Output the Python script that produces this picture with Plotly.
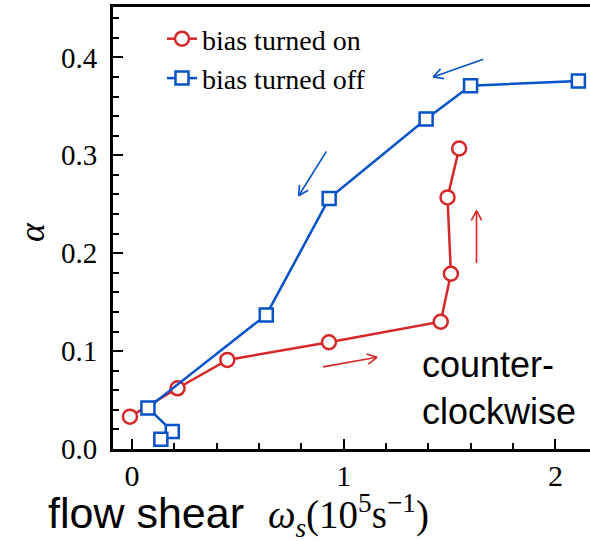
import math
import plotly.graph_objects as go

# ---- data ----
on_x = [-0.01, 0.215, 0.45, 0.93, 1.458, 1.506, 1.49, 1.545]
on_y = [0.033, 0.062, 0.091, 0.109, 0.130, 0.179, 0.257, 0.307]
off_x = [2.108, 1.599, 1.389, 0.931, 0.634, 0.075, 0.19, 0.136]
off_y = [0.376, 0.371, 0.337, 0.256, 0.137, 0.042, 0.018, 0.010]
x_ticks = [0, 1, 2]
x_ticklabels = ["0", "1", "2"]
y_ticks = [0.0, 0.1, 0.2, 0.3, 0.4]
y_ticklabels = ["0.0", "0.1", "0.2", "0.3", "0.4"]
# arrows: (x_tail, y_tail, x_head, y_head, color)
arrows = [
    (1.659, 0.398, 1.422, 0.380, "blue"),
    (0.918, 0.304, 0.787, 0.2587, "blue"),
    (1.627, 0.190, 1.627, 0.2434, "red"),
    (0.902, 0.0839, 1.157, 0.0937, "red"),
]

RED = "#d62728"
BLUE = "#0652c8"
COL = {"red": RED, "blue": BLUE}

W, H = 590, 541
ML, MR, MT, MB = 113, 0, 7, 92
XR = [-0.09, 2.163]
YR = [0.0, 0.4515]
pw = W - ML - MR
ph = H - MT - MB
sx = pw / (XR[1] - XR[0])
sy = ph / (YR[1] - YR[0])

def px_to_paper_x(px):
    return (px - ML) / pw

def px_to_paper_y(py):
    return (H - MB - py) / ph

fig = go.Figure()
fig.add_trace(go.Scatter(
    x=on_x, y=on_y, mode="lines+markers", name="bias turned on",
    line=dict(color=RED, width=2.5),
    marker=dict(symbol="circle", size=14, color="white", line=dict(color=RED, width=2.5)),
))
fig.add_trace(go.Scatter(
    x=off_x, y=off_y, mode="lines+markers", name="bias turned off",
    line=dict(color=BLUE, width=2.5),
    marker=dict(symbol="square", size=13, color="white", line=dict(color=BLUE, width=2.5)),
))

shapes = []
for (x0, y0, x1, y1, c) in arrows:
    color = COL[c]
    shapes.append(dict(type="line", xref="x", yref="y", x0=x0, y0=y0, x1=x1, y1=y1,
                       line=dict(color=color, width=1.6)))
    dxp = (x1 - x0) * sx
    dyp = (y1 - y0) * sy
    L = math.hypot(dxp, dyp)
    ux, uy = dxp / L, dyp / L
    hl = 11
    for ang in (math.radians(28), -math.radians(28)):
        bx = -(ux * math.cos(ang) - uy * math.sin(ang)) * hl
        by = -(ux * math.sin(ang) + uy * math.cos(ang)) * hl
        shapes.append(dict(type="line", xref="x", yref="y", x0=x1, y0=y1,
                           x1=x1 + bx / sx, y1=y1 + by / sy,
                           line=dict(color=color, width=1.6)))

serif = "Liberation Serif"
sans = "Liberation Sans"

annotations = [
    dict(text="counter-<br>clockwise", xref="paper", yref="paper",
         x=px_to_paper_x(420), y=px_to_paper_y(342),
         xanchor="left", yanchor="top", showarrow=False, align="left",
         font=dict(family=sans, size=36, color="black")),
    dict(text=("flow shear  <span style=\"font-family:Liberation Serif;font-size:39px\"><i>ω</i><sub><i>s</i></sub>"
               "(10<sup>5</sup>s<sup>−1</sup>)</span>"),
         xref="paper", yref="paper", x=px_to_paper_x(46), y=px_to_paper_y(515),
         xanchor="left", yanchor="middle", showarrow=False,
         font=dict(family=sans, size=43, color="black")),
    dict(text="<i>α</i>", xref="paper", yref="paper", x=px_to_paper_x(32), y=px_to_paper_y(232),
         xanchor="center", yanchor="middle", textangle=-90, showarrow=False,
         font=dict(family=serif, size=36, color="black")),
]

fig.update_layout(
    width=W, height=H,
    margin=dict(l=ML, r=MR, t=MT, b=MB, pad=0, autoexpand=False),
    paper_bgcolor="white", plot_bgcolor="white",
    showlegend=True,
    legend=dict(x=px_to_paper_x(162), y=px_to_paper_y(14), xanchor="left", yanchor="top",
                bgcolor="rgba(0,0,0,0)", font=dict(family=serif, size=28, color="black"),
                tracegroupgap=0),
    shapes=shapes,
    annotations=annotations,
    xaxis=dict(range=XR, tickvals=x_ticks, ticktext=x_ticklabels, automargin=False,
               ticks="inside", ticklen=10, tickwidth=2, tickcolor="black",
               showline=True, linecolor="black", linewidth=3, mirror=True,
               showgrid=False, zeroline=False, ticklabelstandoff=-2,
               tickfont=dict(family=serif, size=30, color="black"),
               minor=dict(dtick=0.2, tick0=0, ticks="inside", ticklen=6, tickwidth=2,
                          tickcolor="black", showgrid=False)),
    yaxis=dict(range=YR, tickvals=y_ticks, ticktext=y_ticklabels, automargin=False,
               ticks="inside", ticklen=10, tickwidth=2, tickcolor="black",
               showline=True, linecolor="black", linewidth=3, mirror=False,
               showgrid=False, zeroline=False, ticklabelstandoff=7,
               tickfont=dict(family=serif, size=29, color="black"),
               minor=dict(dtick=0.02, tick0=0, ticks="inside", ticklen=6, tickwidth=2,
                          tickcolor="black", showgrid=False)),
)

fig.write_html("out.html", config={"displayModeBar": False},
               post_script="document.body.style.margin='0px';document.body.style.overflow='hidden';")
